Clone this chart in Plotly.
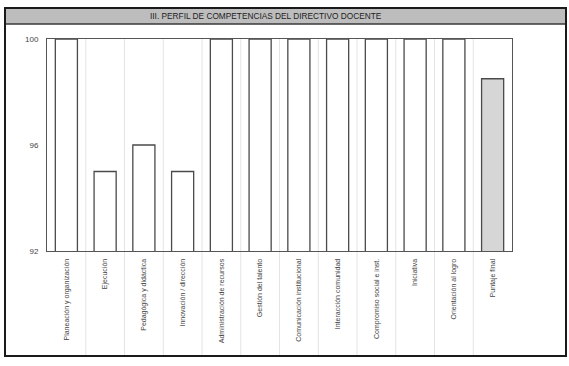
import plotly.graph_objects as go

categories = [
    "Planeación y organización", "Ejecución", "Pedagógica y didáctica",
    "Innovación / dirección", "Administración de recursos", "Gestión del talento",
    "Comunicación institucional", "Interacción comunidad", "Compromiso social e inst.",
    "Iniciativa", "Orientación al logro", "Puntaje final",
]
values = [100, 95, 96, 95, 100, 100, 100, 100, 100, 100, 100, 98.5]
bar_fills = ["#ffffff"] * 11 + ["#d6d6d6"]
y_ticks = [92, 96, 100]
title_text = "III. PERFIL DE COMPETENCIAS DEL DIRECTIVO DOCENTE"

W, H = 569, 366
L, R, T, B = 47, 57, 39, 115
pw, ph = W - L - R, H - T - B

def px(x):
    return (x - L) / pw

def py(y):
    return 1 - (y - T) / ph

fig = go.Figure(go.Bar(
    x=categories, y=values, width=0.57,
    marker=dict(color=bar_fills, line=dict(color="#4a4a4a", width=1.3)),
    hoverinfo="x+y",
))

shapes = []
# column separators extending below the plot
for i in range(len(categories) - 1):
    shapes.append(dict(type="line", xref="x", yref="paper", x0=i + 0.5, x1=i + 0.5,
                       y0=py(355), y1=1, line=dict(color="#e4e4e4", width=1), layer="below"))
# title bar
shapes.append(dict(type="rect", xref="paper", yref="paper", x0=px(5), x1=px(566),
                   y0=py(24), y1=py(8), fillcolor="#bdbdbd",
                   line=dict(color="#3a3a3a", width=1.5), layer="below"))
# outer frame
shapes.append(dict(type="rect", xref="paper", yref="paper", x0=px(5), x1=px(566),
                   y0=py(356), y1=py(8), fillcolor="rgba(0,0,0,0)",
                   line=dict(color="#1a1a1a", width=2)))

fig.update_layout(
    width=W, height=H,
    margin=dict(l=L, r=R, t=T, b=B, pad=0),
    paper_bgcolor="white", plot_bgcolor="white",
    showlegend=False,
    font=dict(family="Liberation Sans, Arial, sans-serif", color="#333"),
    shapes=shapes,
    annotations=[dict(text=title_text, xref="paper", yref="paper", x=px(266), y=py(16),
                      xanchor="center", yanchor="middle", showarrow=False,
                      font=dict(size=8.3, color="#222", family="Liberation Sans, Arial, sans-serif"))],
    xaxis=dict(
        type="category", tickangle=-90, tickfont=dict(size=7, color="#444"),
        showgrid=False, showline=True, linecolor="#555", linewidth=1, mirror=True,
        ticks="", ticklabelstandoff=4, fixedrange=True, automargin=False,
    ),
    yaxis=dict(
        range=[92, 100], tickvals=y_ticks, ticktext=[str(v) for v in y_ticks],
        tickfont=dict(size=8, color="#444"), showgrid=False,
        showline=True, linecolor="#555", linewidth=1, mirror=True,
        ticks="", ticklabelstandoff=6, zeroline=False, fixedrange=True, automargin=False,
    ),
)

fig.write_html("out.html", config={"displayModeBar": False},
               post_script="document.body.style.margin='0';")
